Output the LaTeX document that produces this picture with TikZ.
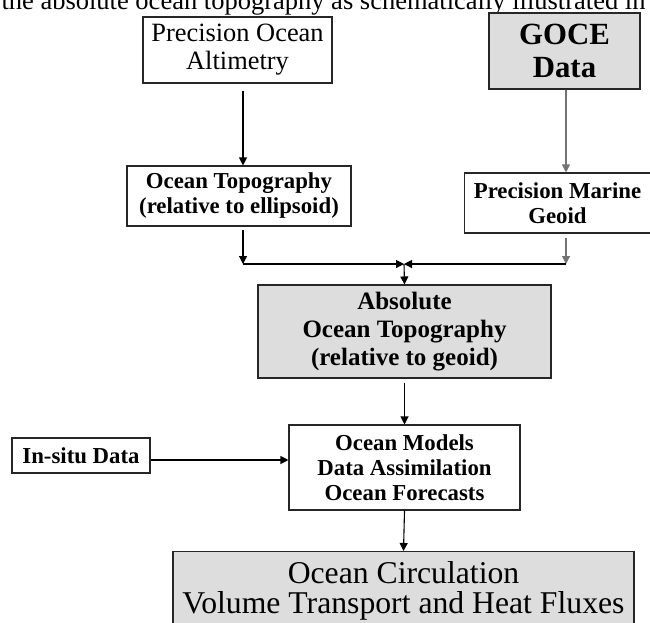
\documentclass[tikz,border=0pt]{standalone}
\usepackage{fontspec}
\setmainfont{Liberation Serif}
\usetikzlibrary{arrows.meta}

\begin{document}
\begin{tikzpicture}[x=1pt,y=-1pt,
    box/.style={shape=rectangle,draw=black!85,line width=1.1pt,align=center,inner sep=0pt},
    greybox/.style={box,fill=ocean_grey},
    smallbf/.style={font=\fontsize{22.8}{25}\selectfont\bfseries},
    arr/.style={-{Triangle[length=8pt,width=8pt]},line width=1.1pt},
    greyline/.style={draw=black!55}]
    \definecolor{ocean_grey}{RGB}{221,221,221}
    \useasboundingbox (0,0) rectangle (650,622);
    \clip (0,0) rectangle (650,622);
    \node[anchor=base west,font=\fontsize{26.5}{30}\selectfont] (intro) at (-2,9.5) {the absolute ocean topography as schematically illustrated in};
    % sources
    \node[box,minimum width=189pt,minimum height=66pt,font=\fontsize{26.4}{28}\selectfont] (alt) at (237.5,50) {Precision Ocean\\Altimetry};
    \node[greybox,minimum width=151pt,minimum height=76pt,font=\fontsize{30.8}{33}\selectfont\bfseries] (goce) at (564.5,51) {GOCE\\Data};
    \node[box,smallbf,minimum width=224pt,minimum height=60pt] (topo) at (239,196) {Ocean Topography\\(relative to ellipsoid)};
    \node[box,smallbf,minimum width=186pt,minimum height=60pt] (geoid) at (557.5,203) {Precision Marine\\Geoid};
    \node[greybox,minimum width=293pt,minimum height=93pt,font=\fontsize{25}{28}\selectfont\bfseries] (abs) at (404.5,331.5) {Absolute\\Ocean Topography\\(relative to geoid)};
    \node[box,smallbf,minimum width=138pt,minimum height=35pt] (insitu) at (81,455.5) {In-situ Data};
    \node[box,smallbf,minimum width=231pt,minimum height=85pt] (models) at (404.5,467.5) {Ocean Models\\Data Assimilation\\Ocean Forecasts};
    \node[greybox,minimum width=461pt,minimum height=79pt,font=\fontsize{31.7}{30.5}\selectfont] (circ) at (403.5,591) {Ocean Circulation\\Volume Transport and Heat Fluxes};
    % junction points
    \coordinate (lc) at (243,0);
    \coordinate (rc) at (566,0);
    \coordinate (jl) at (243,264);
    \coordinate (jr) at (566,264);
    \coordinate (jc) at (404,264);
    \coordinate (iy) at (0,460);
    \draw[arr,shorten <=7pt] (alt.south -| lc) -- (topo.north -| lc);
    \draw[arr,shorten <=3pt] (topo.south -| lc) -- (jl);
    \draw[arr] (jl) -- (jc);
    \draw[arr,greyline] (goce.south -| rc) -- (geoid.north -| rc);
    \draw[arr,greyline,shorten <=4pt] (geoid.south -| rc) -- (jr);
    \draw[arr] (jr) -- (jc);
    \draw[arr] (jc) -- (abs.north);
    \draw[arr,shorten <=4pt] (abs.south) -- (models.north);
    \draw[arr] (insitu.east |- iy) -- (models.west |- iy);
    \draw[arr] (models.south) -- (circ.north);
\end{tikzpicture}
\end{document}
